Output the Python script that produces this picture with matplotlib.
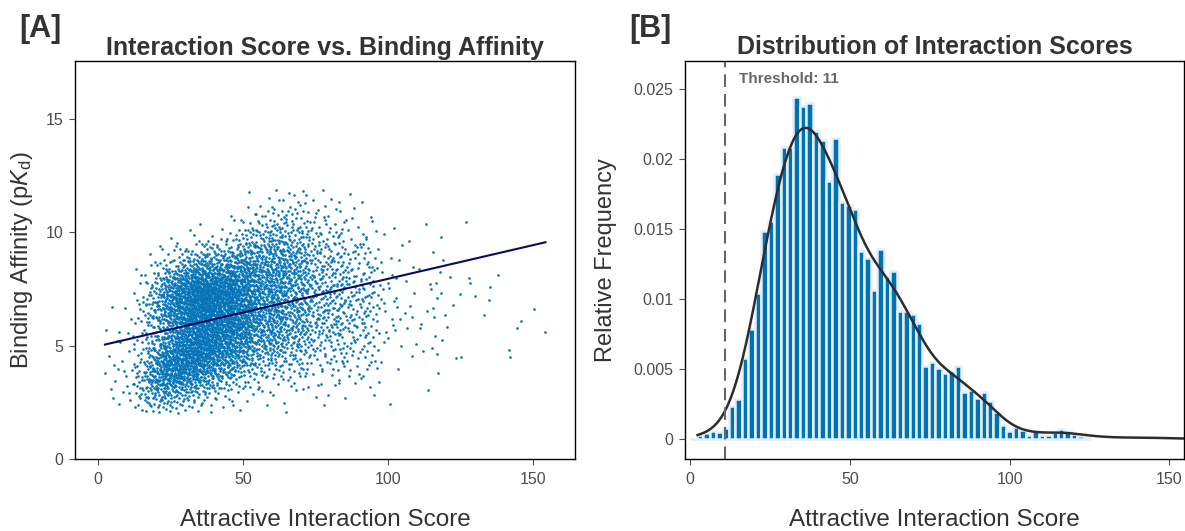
import numpy as np
import matplotlib
matplotlib.use("Agg")
import matplotlib.pyplot as plt
from matplotlib.ticker import FuncFormatter

plt.rcParams['font.family'] = ['Liberation Sans', 'DejaVu Sans']
plt.rcParams['mathtext.fontset'] = 'custom'
plt.rcParams['mathtext.rm'] = 'Liberation Sans'
plt.rcParams['mathtext.it'] = 'Liberation Sans:italic'

# --- data ---
# histogram of attractive interaction scores (density per bin)
bin_width = 2.02
first_center = 1.0
score_density = [
    0.00002, 0.00029, 0.00045, 0.00057, 0.00048, 0.00077, 0.00232, 0.00287,
    0.00575, 0.00783, 0.01040, 0.01485, 0.01554, 0.01892, 0.02086, 0.02086,
    0.02443, 0.02376, 0.02399, 0.02196, 0.02136, 0.01844, 0.02146, 0.01688,
    0.01669, 0.01645, 0.01341, 0.01293, 0.01063, 0.01353, 0.01162, 0.01197,
    0.00914, 0.00917, 0.00893, 0.00826, 0.00521, 0.00552, 0.00510, 0.00474,
    0.00483, 0.00521, 0.00338, 0.00348, 0.00290, 0.00338, 0.00271, 0.00193,
    0.00098, 0.00057, 0.00088, 0.00062, 0.00029, 0.00057, 0.00029, 0.00031,
    0.00052, 0.00071, 0.00057, 0.00033, 0.00024, 0.00014,
]

# isolated complexes with very high scores
tail_x = [126.8, 125.4, 124.9, 133.1, 130.0, 128.0, 128.4, 134.8, 135.2,
          137.9, 141.9, 142.3, 144.4, 145.9, 150.4, 154.4]
tail_y = [10.47, 4.52, 7.30, 6.36, 7.20, 8.00, 7.75, 7.00, 7.60,
          8.10, 4.80, 4.50, 5.77, 6.10, 6.62, 5.60]

# affinity spread along the score axis (two overlapping groups)
profile_x = [5, 15, 25, 35, 45, 55, 65, 75, 85, 95, 110, 125]
upper_mean = [5.4, 6.5, 7.0, 7.2, 7.3, 8.0, 8.5, 8.4, 8.1, 7.8, 7.6, 7.4]
lower_mean = [3.4, 3.5, 4.1, 4.7, 5.1, 5.6, 5.8, 5.8, 5.6, 5.5, 5.6, 5.6]
upper_share = [0.35, 0.35, 0.45, 0.55, 0.60, 0.60, 0.60, 0.60, 0.60, 0.60, 0.60, 0.60]
upper_sd = [1.0, 1.1, 1.0, 1.0, 1.1, 1.4, 1.5, 1.6, 1.6, 1.6, 1.6, 1.5]
lower_sd = [0.9, 0.9, 0.95, 1.0, 1.1, 1.2, 1.3, 1.4, 1.4, 1.4, 1.4, 1.4]

n_complexes = 5000
threshold = 11

BLUE = '#0474B8'
TEXT = '#333333'
TICK = '#4D4D4D'


def halton(n, base):
    # van der Corput sequence in the given base
    out = np.zeros(n)
    idx = np.arange(1, n + 1)
    f = 1.0
    while idx.max() > 0:
        f /= base
        out += f * (idx % base)
        idx //= base
    return out


# --- score / affinity pairs following the histogram ---
centers = first_center + bin_width * np.arange(len(score_density))
edges = np.append(centers - bin_width / 2, centers[-1] + bin_width / 2)
cum = np.concatenate([[0.0], np.cumsum(score_density)])
cum = cum / cum[-1]

n_main = n_complexes - len(tail_x)
u = halton(n_main, 2)
v = halton(n_main, 3)
x_main = np.interp(u, cum, edges)

grid = np.linspace(2.0, 12.0, 801)
mh = np.interp(x_main, profile_x, upper_mean)[:, None]
ml = np.interp(x_main, profile_x, lower_mean)[:, None]
w = np.interp(x_main, profile_x, upper_share)[:, None]
sh = np.interp(x_main, profile_x, upper_sd)[:, None]
sl = np.interp(x_main, profile_x, lower_sd)[:, None]
pdf = (w * np.exp(-0.5 * ((grid - mh) / sh) ** 2) / sh
       + (1 - w) * np.exp(-0.5 * ((grid - ml) / sl) ** 2) / sl)
cdf = np.cumsum(pdf, axis=1)
cdf = (cdf - cdf[:, :1]) / (cdf[:, -1:] - cdf[:, :1])
y_main = grid[np.minimum((cdf < v[:, None]).sum(axis=1), len(grid) - 1)]

score = np.concatenate([x_main, tail_x])
affinity = np.concatenate([y_main, tail_y])

slope, intercept = np.polyfit(score, affinity, 1)

# density curve from the binned scores
bw = 4.8
weights = np.concatenate([np.array(score_density) * bin_width,
                          np.full(len(tail_x), 1.0 / n_complexes)])
locs = np.concatenate([centers, tail_x])
weights = weights / weights.sum()
kx = np.linspace(score.min(), score.max(), 600)
ky = (weights[None, :] * np.exp(-0.5 * ((kx[:, None] - locs[None, :]) / bw) ** 2)).sum(axis=1) / (bw * np.sqrt(2 * np.pi))

# --- figure ---
W, H = 1185, 531
fig = plt.figure(figsize=(W / 100, H / 100), dpi=100)


def px_box(left, top, right, bottom):
    return [left / W, 1 - bottom / H, (right - left) / W, (bottom - top) / H]


axA = fig.add_axes(px_box(75.3, 61, 575.3, 459.3))
axB = fig.add_axes(px_box(685, 61, 1184, 459.3))

for ax in (axA, axB):
    for s in ax.spines.values():
        s.set_linewidth(1.0)
        s.set_color('black')
    ax.tick_params(direction='out', length=4.5, width=0.8, color=TICK,
                   labelcolor=TICK, labelsize=11.5)
    ax.tick_params(axis='x', pad=5)
    ax.tick_params(axis='y', pad=4)

# [A] scatter with linear fit
axA.scatter(score, affinity, s=3.6, color=BLUE, linewidths=0)
lx = np.array([score.min(), score.max()])
axA.plot(lx, intercept + slope * lx, color='#0B0B5C', lw=1.5)
axA.set_xlim(-7.94, 164.7)
axA.set_ylim(0, 17.55)
axA.set_xticks([0, 50, 100, 150])
axA.set_yticks([0, 5, 10, 15])

# [B] histogram with density curve
axB.bar(centers, score_density, width=bin_width, color='#0072B2',
        edgecolor='#E4EEF8', linewidth=1.8)
axB.plot(kx, ky, color='#2D2D2D', lw=1.8)
axB.axvline(threshold, color='#666666', lw=1.5, ls=(0, (6, 3.4)))
axB.text(15.2, 0.0254, f'Threshold: {threshold}', color='#666666',
         fontsize=11, fontweight='bold', ha='left', va='baseline')
axB.set_xlim(-1.66, 154.6)
axB.set_ylim(-0.00145, 0.02698)
axB.set_xticks([0, 50, 100, 150])
axB.set_yticks([0, 0.005, 0.01, 0.015, 0.02, 0.025])
axB.yaxis.set_major_formatter(FuncFormatter(lambda val, pos: f'{val:g}'))


# labels and titles (pixel positions from the top-left corner)
def fx(x):
    return x / W


def fy(y):
    return 1 - y / H


fig.text(fx(19), fy(28.5), '[A]', fontsize=22, fontweight='bold', color=TEXT,
         ha='left', va='center')
fig.text(fx(629), fy(28.5), '[B]', fontsize=22, fontweight='bold', color=TEXT,
         ha='left', va='center')
fig.text(fx(325.3), fy(55), 'Interaction Score vs. Binding Affinity', fontsize=18,
         fontweight='bold', color=TEXT, ha='center', va='baseline')
fig.text(fx(934.5), fy(54.5), 'Distribution of Interaction Scores', fontsize=18,
         fontweight='bold', color=TEXT, ha='center', va='baseline')
fig.text(fx(325.3), fy(525.5), 'Attractive Interaction Score', fontsize=17.5,
         color=TEXT, ha='center', va='baseline')
fig.text(fx(934.5), fy(525.5), 'Attractive Interaction Score', fontsize=17.5,
         color=TEXT, ha='center', va='baseline')
fig.text(fx(22), fy(260), r'Binding Affinity (p$K_{\mathrm{d}}$)', fontsize=17,
         color=TEXT, rotation=90, ha='center', va='center')
fig.text(fx(606), fy(260), 'Relative Frequency', fontsize=17,
         color=TEXT, rotation=90, ha='center', va='center')

fig.savefig('out.png', dpi=100)
